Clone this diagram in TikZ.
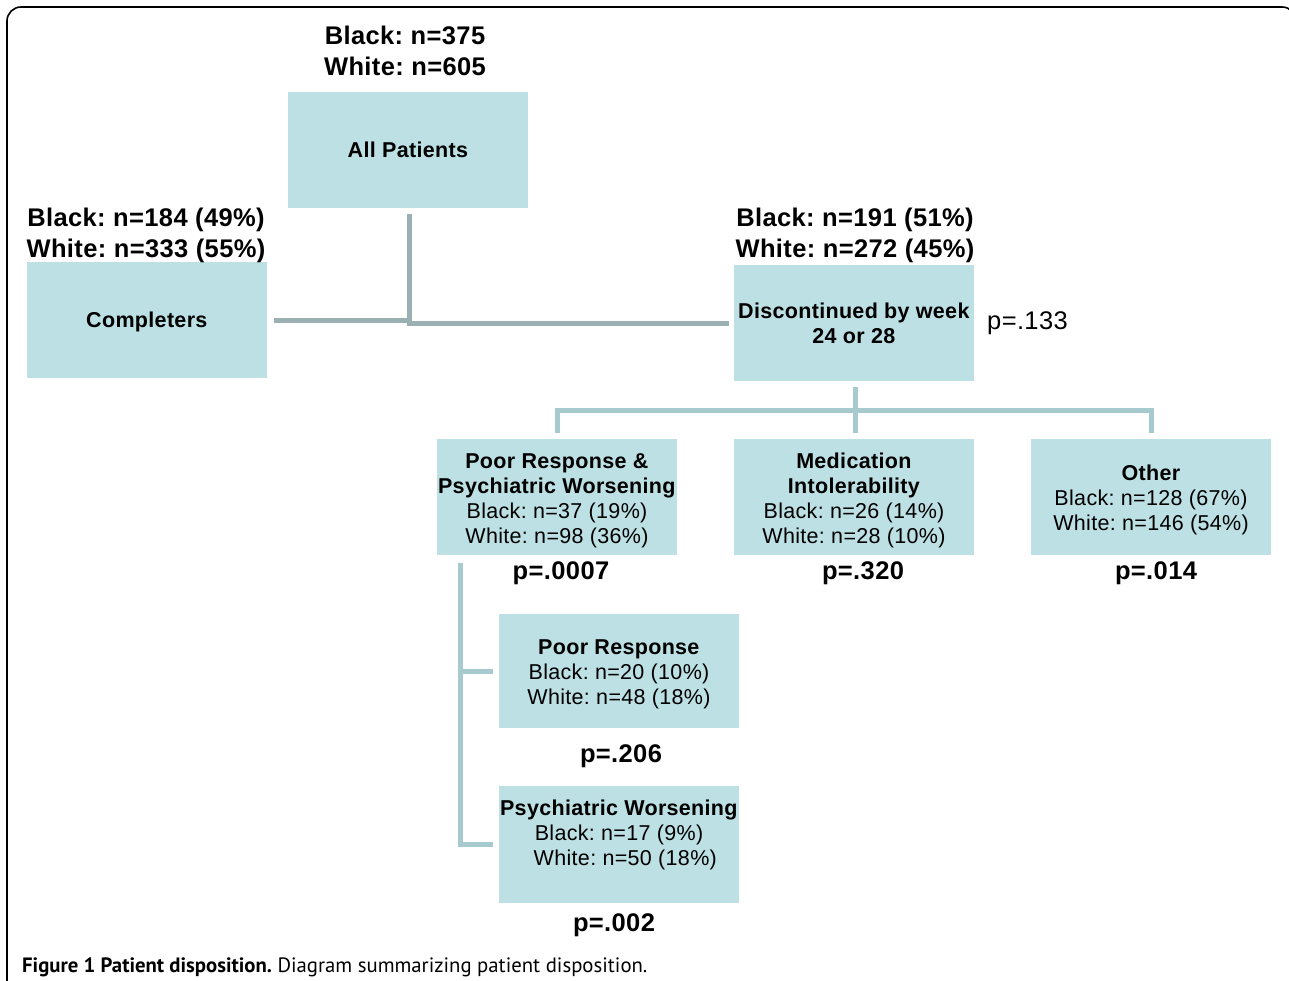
\documentclass[tikz,border=0pt]{standalone}
\usepackage{fontspec}
\setmainfont[LetterSpace=1.5]{Liberation Sans}
\newfontfamily\capfont{PT Sans}
\definecolor{boxfill}{RGB}{188,224,228}
\definecolor{lineA}{RGB}{154,176,179}
\definecolor{lineB}{RGB}{166,202,206}
\newcommand\lowerby[1]{\rule{0pt}{#1pt}}
\frenchspacing
\begin{document}
\begin{tikzpicture}[x=1pt,y=-1pt,
  box/.style={fill=boxfill, minimum width=240pt, minimum height=116pt, inner sep=0pt, align=center, font=\fontsize{21.5}{25}\selectfont},
  boxtext/.style={inner sep=0pt, align=center, font=\fontsize{21.5}{25}\selectfont},
  toplabel/.style={align=center, font=\bfseries\fontsize{25.5}{31}\selectfont, inner sep=0pt},
  pval/.style={font=\bfseries\fontsize{25.5}{31}\selectfont, inner sep=0pt},
  pvalreg/.style={font=\fontsize{25.5}{31}\selectfont, inner sep=0pt},
  conA/.style={draw=lineA, line width=5pt},
  conB/.style={draw=lineB, line width=5pt},
  frame/.style={draw=black, line width=1.6pt, rounded corners=14pt}]
\useasboundingbox (0,0) rectangle (1289,981);
\fill[white] (0,0) rectangle (1289,981);
\draw[frame] (7,995) -- (7,7) -- (1296,7) -- (1296,995);

% boxes
\node[box] (all) at (408,150) {\textbf{All Patients}};
\node[box, minimum height=115pt] (comp) at (147,320) {\lowerby{19.7}\textbf{Completers}};
\node[box, minimum height=115pt] (disc) at (854,323) {\textbf{Discontinued by week}\\\textbf{24 or 28}};
\node[box] (prw) at (557,497) {\lowerby{22.7}\textbf{Poor Response \&}\\\textbf{Psychiatric Worsening}\\Black: n=37 (19\%)\\White: n=98 (36\%)};
\node[box] (mi) at (854,497) {\lowerby{22.7}\textbf{Medication}\\\textbf{Intolerability}\\Black: n=26 (14\%)\\White: n=28 (10\%)};
\node[box] (oth) at (1151,497) {\lowerby{21.7}\textbf{Other}\\Black: n=128 (67\%)\\White: n=146 (54\%)};
\node[box, minimum height=114pt] (pr) at (619,671) {\lowerby{20.7}\textbf{Poor Response}\\Black: n=20 (10\%)\\White: n=48 (18\%)};
\node[box, minimum height=117pt] (psw) at (619,844) {};
\node[boxtext] (pswtext) at (619,835) {\textbf{Psychiatric Worsening}\\Black: n=17 (9\%)\\\ \ White: n=50 (18\%)};

% top labels
\node[toplabel] (lall) at (405,51) {Black: n=375\\White: n=605};
\node[toplabel] (lcomp) at (146,235) {Black: n=184 (49\%)\\White: n=333 (55\%)};
\node[toplabel] (ldisc) at (855,235) {Black: n=191 (51\%)\\White: n=272 (45\%)};

% p-values
\node[pvalreg, anchor=west] (p133) at (987,323) {p=.133};
\node[pval] (p0007) at (561,573) {p=.0007};
\node[pval] (p320) at (863,573) {p=.320};
\node[pval] (p014) at (1156,573) {p=.014};
\node[pval] (p206) at (621,756) {p=.206};
\node[pval] (p002) at (614,925) {p=.002};

% connectors top level
\coordinate (j1) at (409,323);
\draw[conA] ([yshift=-6pt]all.south -| j1) -- ([yshift=-2.5pt]j1);
\draw[conA] ([xshift=7pt]comp.east) -- (j1 |- comp.east);
\draw[conA] ([xshift=-2.5pt]j1 |- disc.west) -- ([xshift=-5pt]disc.west);

% connectors from discontinued
\coordinate (bar) at (855,410);
\draw[conB] ([yshift=-6pt]disc.south -| bar) -- ([yshift=6pt]mi.north -| bar);
\draw[conB] ([yshift=6pt]prw.north) -- (prw.north |- bar) -- (oth.north |- bar) -- ([yshift=6pt]oth.north);

% bracket
\coordinate (br) at (460,563);
\draw[conB] (br) -- (br |- psw.center) -- ([xshift=-6pt]psw.west);
\draw[conB] (br |- pr.west) -- ([xshift=-6pt]pr.west);

% caption
\node[anchor=base west, inner sep=0pt, font=\capfont\fontsize{20.75}{24}\selectfont] (cap) at (22,972) {\textbf{Figure 1 Patient disposition.} Diagram summarizing patient disposition.};
\end{tikzpicture}
\end{document}
